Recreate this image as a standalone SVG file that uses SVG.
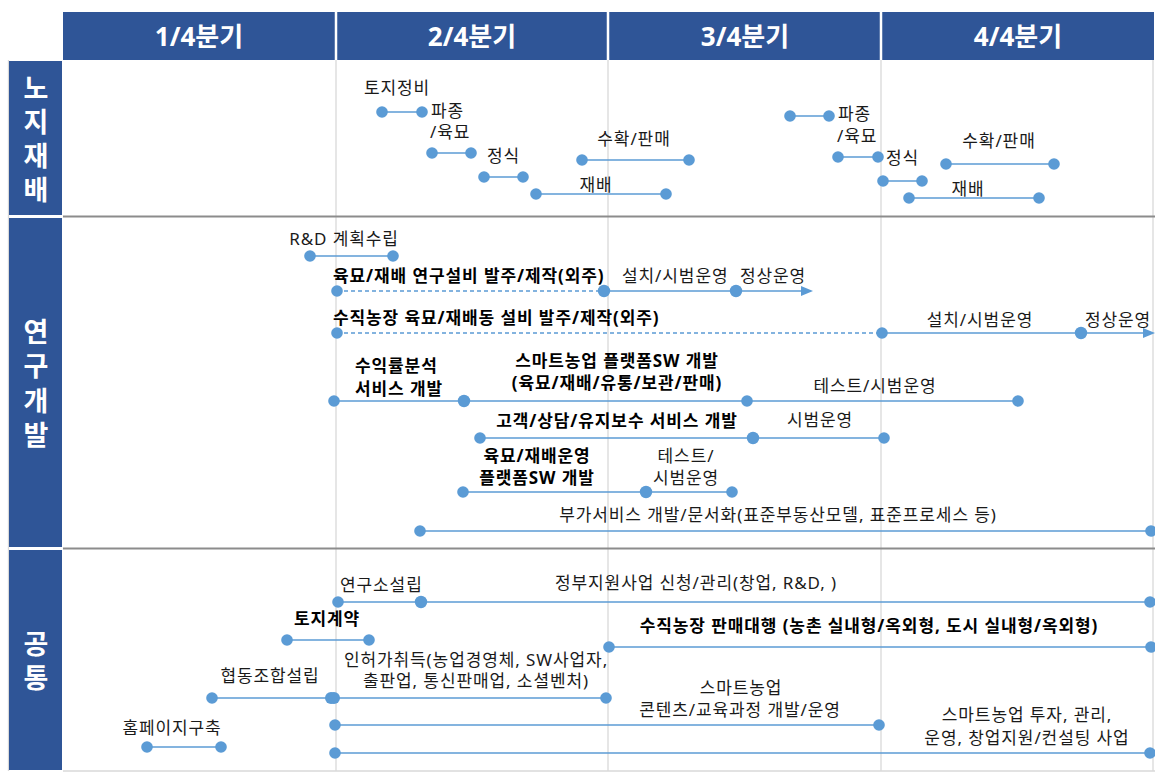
<svg xmlns="http://www.w3.org/2000/svg" width="1155" height="782" viewBox="0 0 1155 782">
<style>
.t{font-family:"Noto Sans","Noto Sans CJK KR",sans-serif;font-size:17px;fill:#1a1a1a;letter-spacing:0.9px}
.b{font-weight:bold;fill:#000}
.m{text-anchor:middle}
.h{font-family:"Noto Sans","Noto Sans CJK KR",sans-serif;font-size:26px;font-weight:bold;fill:#fff;text-anchor:middle}
.v{font-family:"Noto Sans","Noto Sans CJK KR",sans-serif;font-size:27px;font-weight:bold;fill:#fff;text-anchor:middle}
.ln{stroke:#5B9BD5;stroke-width:1.4;fill:none}
.ds{stroke-dasharray:4 3}
.d{fill:#5B9BD5}
.g{stroke:#D9D9D9;stroke-width:1.3}
.s{stroke:#8C8C8C;stroke-width:2}
.hb{fill:#2F5597}
</style>
<rect width="1155" height="782" fill="#fff"/>
<g id="grid">
<line class="g" x1="336" y1="60" x2="336" y2="771"/>
<line class="g" x1="608" y1="60" x2="608" y2="771"/>
<line class="g" x1="881" y1="60" x2="881" y2="771"/>
<line class="g" x1="1153" y1="60" x2="1153" y2="771"/>
<line class="s" x1="63" y1="216.5" x2="1155" y2="216.5"/>
<line class="s" x1="63" y1="548.5" x2="1155" y2="548.5"/>
<line class="g" x1="63" y1="771" x2="1155" y2="771"/>
<line class="g" x1="8.5" y1="60" x2="8.5" y2="771"/>
</g>
<g id="header">
<rect class="hb" x="63" y="12" width="1091" height="48"/>
<line x1="336" y1="12" x2="336" y2="60" stroke="#fff" stroke-width="2.5"/>
<line x1="608" y1="12" x2="608" y2="60" stroke="#fff" stroke-width="2.5"/>
<line x1="881" y1="12" x2="881" y2="60" stroke="#fff" stroke-width="2.5"/>
<text class="h" x="199" y="46">1/4분기</text>
<text class="h" x="472" y="46">2/4분기</text>
<text class="h" x="745" y="46">3/4분기</text>
<text class="h" x="1018" y="46">4/4분기</text>
</g>
<g id="row-labels">
<rect class="hb" x="9" y="61" width="53" height="154"/>
<rect class="hb" x="9" y="218" width="53" height="329"/>
<rect class="hb" x="9" y="550" width="53" height="220"/>
<text class="v" x="36" y="98"><tspan x="36" y="98">노</tspan><tspan x="36" y="132">지</tspan><tspan x="36" y="166">재</tspan><tspan x="36" y="200">배</tspan></text>
<text class="v" x="36" y="342"><tspan x="36" y="342">연</tspan><tspan x="36" y="376">구</tspan><tspan x="36" y="411">개</tspan><tspan x="36" y="445">발</tspan></text>
<text class="v" x="36" y="654"><tspan x="36" y="654">공</tspan><tspan x="36" y="688">통</tspan></text>
</g>
<g id="connectors">
<line class="ln" x1="382" y1="112" x2="422" y2="112"/>
<line class="ln" x1="432" y1="153" x2="471" y2="153"/>
<line class="ln" x1="484" y1="177" x2="523" y2="177"/>
<line class="ln" x1="536" y1="194" x2="666" y2="194"/>
<line class="ln" x1="582" y1="160" x2="689" y2="160"/>
<line class="ln" x1="790" y1="116" x2="829" y2="116"/>
<line class="ln" x1="838" y1="157" x2="878" y2="157"/>
<line class="ln" x1="883" y1="181" x2="922" y2="181"/>
<line class="ln" x1="909" y1="198" x2="1039" y2="198"/>
<line class="ln" x1="946" y1="164" x2="1054" y2="164"/>
<line class="ln" x1="310" y1="256" x2="393" y2="256"/>
<line class="ln ds" x1="337" y1="291" x2="604" y2="291"/>
<line class="ln" x1="604" y1="291" x2="803" y2="291"/>
<line class="ln ds" x1="337" y1="333" x2="882" y2="333"/>
<line class="ln" x1="882" y1="333" x2="1145" y2="333"/>
<line class="ln" x1="334" y1="401" x2="1018" y2="401"/>
<line class="ln" x1="480" y1="438" x2="884" y2="438"/>
<line class="ln" x1="463" y1="492" x2="732" y2="492"/>
<line class="ln" x1="420" y1="531" x2="1151" y2="531"/>
<line class="ln" x1="338" y1="602" x2="1150" y2="602"/>
<line class="ln" x1="287" y1="640" x2="369" y2="640"/>
<line class="ln" x1="609" y1="647" x2="1151" y2="647"/>
<line class="ln" x1="212" y1="698" x2="606" y2="698"/>
<line class="ln" x1="335" y1="725" x2="879" y2="725"/>
<line class="ln" x1="147" y1="747" x2="221" y2="747"/>
<line class="ln" x1="335" y1="753" x2="1150" y2="753"/>
<polygon class="d" points="801,286 813,291 801,296"/>
<polygon class="d" points="1143,328 1155,333 1143,338"/>
</g>
<g id="open-field">
<text class="t m" x="397" y="94">토지정비</text>
<circle class="d" cx="382" cy="112" r="5.8"/><circle class="d" cx="422" cy="112" r="5.8"/>
<text class="t" x="431" y="117">파종</text>
<text class="t" x="430" y="138">/육묘</text>
<circle class="d" cx="432" cy="153" r="5.8"/><circle class="d" cx="471" cy="153" r="5.8"/>
<text class="t" x="487" y="162">정식</text>
<circle class="d" cx="484" cy="177" r="5.8"/><circle class="d" cx="523" cy="177" r="5.8"/>
<text class="t m" x="596" y="191">재배</text>
<circle class="d" cx="536" cy="194" r="5.8"/><circle class="d" cx="666" cy="194" r="5.8"/>
<text class="t m" x="634" y="145">수확/판매</text>
<circle class="d" cx="582" cy="160" r="5.8"/><circle class="d" cx="689" cy="160" r="5.8"/>
<circle class="d" cx="790" cy="116" r="5.8"/><circle class="d" cx="829" cy="116" r="5.8"/>
<text class="t" x="838" y="120">파종</text>
<text class="t" x="837" y="142">/육묘</text>
<circle class="d" cx="838" cy="157" r="5.8"/><circle class="d" cx="878" cy="157" r="5.8"/>
<text class="t" x="886" y="164">정식</text>
<circle class="d" cx="883" cy="181" r="5.8"/><circle class="d" cx="922" cy="181" r="5.8"/>
<text class="t m" x="968" y="195">재배</text>
<circle class="d" cx="909" cy="198" r="5.8"/><circle class="d" cx="1039" cy="198" r="5.8"/>
<text class="t m" x="999" y="147">수확/판매</text>
<circle class="d" cx="946" cy="164" r="5.8"/><circle class="d" cx="1054" cy="164" r="5.8"/>
</g>
<g id="rnd">
<text class="t m" x="344" y="245">R&amp;D 계획수립</text>
<circle class="d" cx="310" cy="256" r="5.8"/><circle class="d" cx="393" cy="256" r="5.8"/>
<text class="t b" x="333" y="282">육묘/재배 연구설비 발주/제작(외주)</text>
<text class="t" x="622" y="282">설치/시범운영</text>
<text class="t" x="740" y="282">정상운영</text>
<circle class="d" cx="337" cy="291" r="5.8"/><circle class="d" cx="604" cy="291" r="6.2"/><circle class="d" cx="736" cy="291" r="6.2"/>
<text class="t b" x="333" y="324">수직농장 육묘/재배동 설비 발주/제작(외주)</text>
<text class="t m" x="980" y="326">설치/시범운영</text>
<text class="t" x="1085" y="326">정상운영</text>
<circle class="d" cx="337" cy="333" r="5.8"/><circle class="d" cx="882" cy="333" r="5.8"/><circle class="d" cx="1081" cy="333" r="6.2"/>
<text class="t b" x="355" y="372">수익률분석</text>
<text class="t b" x="355" y="395">서비스 개발</text>
<text class="t b m" x="617" y="367">스마트농업 플랫폼SW 개발</text>
<text class="t b m" x="617" y="389">(육묘/재배/유통/보관/판매)</text>
<text class="t m" x="875" y="392">테스트/시범운영</text>
<circle class="d" cx="334" cy="401" r="5.8"/><circle class="d" cx="464" cy="401" r="6.2"/><circle class="d" cx="747" cy="401" r="5.8"/><circle class="d" cx="1018" cy="401" r="5.8"/>
<text class="t b m" x="617" y="427">고객/상담/유지보수 서비스 개발</text>
<text class="t m" x="820" y="426">시범운영</text>
<circle class="d" cx="480" cy="438" r="5.8"/><circle class="d" cx="753" cy="438" r="6.2"/><circle class="d" cx="884" cy="438" r="5.8"/>
<text class="t b m" x="537" y="462">육묘/재배운영</text>
<text class="t b m" x="537" y="484">플랫폼SW 개발</text>
<text class="t m" x="686" y="462">테스트/</text>
<text class="t m" x="686" y="484">시범운영</text>
<circle class="d" cx="463" cy="492" r="5.8"/><circle class="d" cx="646" cy="492" r="6.2"/><circle class="d" cx="732" cy="492" r="5.8"/>
<text class="t m" x="778" y="521">부가서비스 개발/문서화(표준부동산모델, 표준프로세스 등)</text>
<circle class="d" cx="420" cy="531" r="5.8"/><circle class="d" cx="1151" cy="531" r="5.8"/>
</g>
<g id="common">
<text class="t" x="340" y="591">연구소설립</text>
<text class="t m" x="696" y="589">정부지원사업 신청/관리(창업, R&amp;D, )</text>
<circle class="d" cx="338" cy="602" r="5.8"/><circle class="d" cx="421" cy="602" r="6.2"/><circle class="d" cx="1150" cy="602" r="5.8"/>
<text class="t b m" x="327" y="625">토지계약</text>
<circle class="d" cx="287" cy="640" r="5.8"/><circle class="d" cx="369" cy="640" r="5.8"/>
<text class="t b m" x="869" y="632">수직농장 판매대행 (농촌 실내형/옥외형, 도시 실내형/옥외형)</text>
<circle class="d" cx="609" cy="647" r="5.8"/><circle class="d" cx="1151" cy="647" r="5.8"/>
<text class="t m" x="270" y="682">협동조합설립</text>
<text class="t m" x="476" y="666">인허가취득(농업경영체, SW사업자,</text>
<text class="t m" x="476" y="687">출판업, 통신판매업, 소셜벤처)</text>
<circle class="d" cx="212" cy="698" r="5.8"/><circle class="d" cx="331" cy="698" r="6"/><circle class="d" cx="334" cy="698" r="6"/><circle class="d" cx="606" cy="698" r="5.8"/>
<text class="t m" x="741" y="694">스마트농업</text>
<text class="t m" x="740" y="716">콘텐츠/교육과정 개발/운영</text>
<circle class="d" cx="335" cy="725" r="5.8"/><circle class="d" cx="879" cy="725" r="5.8"/>
<text class="t m" x="172" y="734">홈페이지구축</text>
<circle class="d" cx="147" cy="747" r="5.8"/><circle class="d" cx="221" cy="747" r="5.8"/>
<text class="t m" x="1027" y="721">스마트농업 투자, 관리,</text>
<text class="t m" x="1027" y="744">운영, 창업지원/컨설팅 사업</text>
<circle class="d" cx="335" cy="753" r="5.8"/><circle class="d" cx="1150" cy="753" r="5.8"/>
</g>
</svg>
